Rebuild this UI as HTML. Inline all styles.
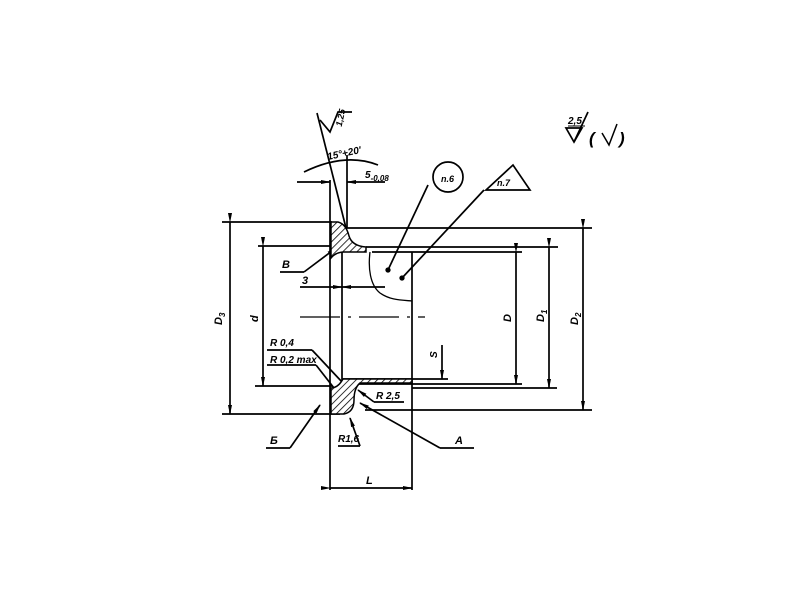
<!DOCTYPE html>
<html><head><style>
body{margin:0;background:#fff}
svg{display:block}
text{font-family:"Liberation Sans",sans-serif;font-style:italic;font-weight:bold;fill:#000}
</style></head><body>
<svg width="800" height="600" viewBox="0 0 800 600" xmlns="http://www.w3.org/2000/svg">
<defs>
<pattern id="h" patternUnits="userSpaceOnUse" width="5" height="5" patternTransform="rotate(45)">
<rect width="5" height="5" fill="#fff"/><line x1="0" y1="0" x2="0" y2="5" stroke="#000" stroke-width="1.6"/>
</pattern>
<marker id="a" markerWidth="10" markerHeight="6" refX="9" refY="3" orient="auto" markerUnits="userSpaceOnUse"><path d="M0,1 L10,3 L0,5 Z"/></marker>
</defs>
<g stroke="#000" stroke-width="1.7" fill="none">
<line x1="222" y1="222" x2="332" y2="222"/>
<line x1="345" y1="228" x2="592" y2="228"/>
<line x1="258" y1="246" x2="332" y2="246"/>
<line x1="366" y1="247" x2="558" y2="247"/>
<line x1="372" y1="252" x2="522" y2="252"/>
<line x1="255" y1="386" x2="332" y2="386"/>
<line x1="343" y1="379" x2="448" y2="379"/>
<line x1="355" y1="384" x2="522" y2="384"/>
<line x1="412" y1="388" x2="557" y2="388"/>
<line x1="365" y1="410" x2="592" y2="410"/>
<line x1="222" y1="414" x2="340" y2="414"/>
<line x1="330" y1="180" x2="330" y2="490"/>
<line x1="342" y1="252" x2="342" y2="386"/>
<line x1="412" y1="252" x2="412" y2="490"/>
<line x1="230" y1="222" x2="230" y2="414" marker-start="url(#a)" marker-end="url(#a)"/>
<line x1="263" y1="246" x2="263" y2="386" marker-start="url(#a)" marker-end="url(#a)"/>
<line x1="516" y1="252" x2="516" y2="384" marker-start="url(#a)" marker-end="url(#a)"/>
<line x1="549" y1="247" x2="549" y2="388" marker-start="url(#a)" marker-end="url(#a)"/>
<line x1="583" y1="228" x2="583" y2="410" marker-start="url(#a)" marker-end="url(#a)"/>
<line x1="330" y1="488" x2="412" y2="488" marker-start="url(#a)" marker-end="url(#a)"/>
<line x1="442" y1="345" x2="442" y2="379" marker-end="url(#a)"/>
<line x1="300" y1="287" x2="342" y2="287" marker-end="url(#a)"/>
<line x1="385" y1="287" x2="342" y2="287" marker-end="url(#a)"/>
<line x1="297" y1="182" x2="330" y2="182" marker-end="url(#a)"/>
<line x1="385" y1="182" x2="347" y2="182" marker-end="url(#a)"/>
<line x1="347" y1="155" x2="347" y2="228"/>
<path d="M304,172 Q345,152 378,165"/>
<line x1="317" y1="113" x2="346" y2="228"/>
<line x1="300" y1="317" x2="425" y2="317" stroke-width="1.3" stroke-dasharray="40,8,3,8"/>
<path d="M370,252 C368,268 370,285 380,293 C390,300 400,300 412,301" stroke-width="1.3"/>
<line x1="428" y1="185" x2="388" y2="270"/>
<line x1="484" y1="190" x2="402" y2="278"/>
<circle cx="388" cy="270" r="1.8" fill="#000"/>
<circle cx="402" cy="278" r="1.8" fill="#000"/>
<line x1="280" y1="272" x2="304" y2="272"/>
<line x1="304" y1="272" x2="336" y2="248" marker-end="url(#a)"/>
<line x1="267" y1="350" x2="312" y2="350"/><line x1="312" y1="350" x2="342" y2="382"/>
<line x1="267" y1="365" x2="316" y2="365"/><line x1="316" y1="365" x2="334" y2="388"/>
<line x1="266" y1="448" x2="290" y2="448"/><line x1="290" y1="448" x2="320" y2="405" marker-end="url(#a)"/>
<line x1="338" y1="446" x2="360" y2="446"/><line x1="360" y1="446" x2="350" y2="418" marker-end="url(#a)"/>
<line x1="374" y1="402" x2="404" y2="402"/><line x1="374" y1="402" x2="358" y2="390" marker-end="url(#a)"/>
<line x1="440" y1="448" x2="474" y2="448"/><line x1="440" y1="448" x2="360" y2="403" marker-end="url(#a)"/>
<circle cx="448" cy="177" r="15"/>
<path d="M486,190 L530,190 L513,165 Z"/>
<path d="M320,120 L330,132 L338,112 L352,112"/>
<path d="M566,128 L582,128 L574,142 Z"/>
<path d="M574,142 L588,112"/>
<line x1="568" y1="126" x2="585" y2="126" stroke-width="1"/>
<path d="M602,133 L609,145 L617,124" stroke-width="1.5"/>
</g>
<path d="M331,222 L338,222 Q346,224 349,236 Q352,246 366,247 L366,252 L344,252 Q336,252 331,258 Z" fill="url(#h)" stroke="#000" stroke-width="1.5"/>
<path d="M343,379 L412,379 L412,383 L360,383 Q354,388 354,400 Q354,412 344,414 L331,414 L331,388 Q338,388 343,379 Z" fill="url(#h)" stroke="#000" stroke-width="1.5"/>
<g font-size="11">
<text x="282" y="268">B</text>
<text x="302" y="284">3</text>
<text x="270" y="346" font-size="10">R 0,4</text>
<text x="270" y="363" font-size="10">R 0,2 max</text>
<text x="270" y="444">Б</text>
<text x="338" y="442" font-size="10">R1,6</text>
<text x="376" y="399" font-size="10">R 2,5</text>
<text x="455" y="444">A</text>
<text x="366" y="484">L</text>
<text x="441" y="182" font-size="9">n.6</text>
<text x="497" y="186" font-size="9">n.7</text>
<text x="328" y="160" font-size="10" transform="rotate(-12 328 160)">15°+20'</text>
<text x="365" y="178" font-size="10">5<tspan font-size="8" dy="3">-0,08</tspan></text>
<text x="332" y="125" font-size="9" transform="rotate(-78 338 120)">1,25</text>
<text x="568" y="124" font-size="10">2,5</text>
<text x="589" y="144" font-size="17" font-style="normal" font-weight="normal">(</text>
<text x="619" y="144" font-size="17" font-style="normal" font-weight="normal">)</text>
<text transform="translate(222,325) rotate(-90)" font-size="11">D<tspan font-size="8" dy="3">3</tspan></text>
<text transform="translate(258,322) rotate(-90)" font-size="11">d</text>
<text transform="translate(511,322) rotate(-90)" font-size="11">D</text>
<text transform="translate(544,322) rotate(-90)" font-size="11">D<tspan font-size="8" dy="3">1</tspan></text>
<text transform="translate(578,325) rotate(-90)" font-size="11">D<tspan font-size="8" dy="3">2</tspan></text>
<text transform="translate(437,358) rotate(-90)" font-size="10">S</text>
</g>
</svg>
</body></html>
